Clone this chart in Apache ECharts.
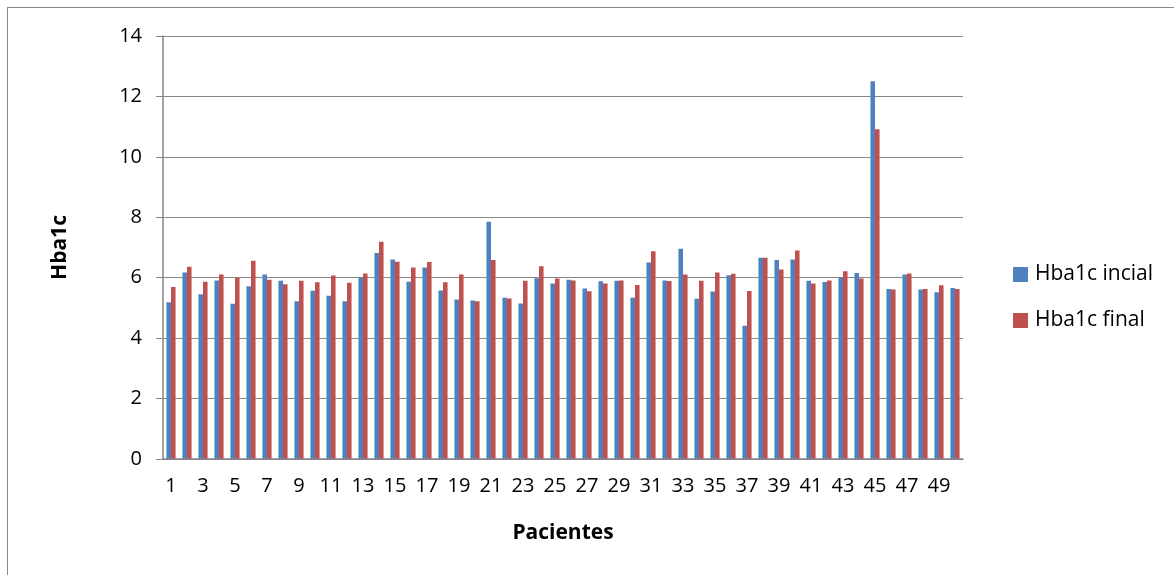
<!DOCTYPE html>
<html>
<head>
<meta charset="utf-8">
<script src="https://cdn.jsdelivr.net/npm/echarts@6/dist/echarts.min.js"></script>
<style>
html,body{margin:0;padding:0;background:#fff;overflow:hidden;}
#frame{position:absolute;left:7px;top:7px;width:1200px;height:600px;border:1px solid #898989;box-sizing:border-box;}
#chart{position:absolute;left:0;top:0;width:1174px;height:575px;}
</style>
</head>
<body>
<div id="frame"></div>
<div id="chart"></div>
<script>
const categories = Array.from({length: 50}, (_, i) => String(i + 1));
const seriesNames = ['Hba1c incial', 'Hba1c final'];
const hbaInicial = [5.19,6.17,5.45,5.91,5.14,5.72,6.11,5.90,5.22,5.57,
                    5.40,5.22,6.00,6.82,6.60,5.87,6.34,5.58,5.28,5.25,
                    7.85,5.34,5.15,5.98,5.81,5.93,5.64,5.88,5.90,5.34,
                    6.50,5.91,6.96,5.30,5.54,6.08,4.41,6.66,6.59,6.60,
                    5.90,5.86,6.01,6.16,12.50,5.63,6.11,5.61,5.52,5.66];
const hbaFinal   = [5.69,6.36,5.87,6.11,5.99,6.56,5.93,5.78,5.90,5.85,
                    6.07,5.83,6.14,7.19,6.53,6.34,6.52,5.85,6.11,5.22,
                    6.59,5.31,5.90,6.38,5.97,5.91,5.55,5.81,5.91,5.76,
                    6.88,5.89,6.11,5.90,6.17,6.13,5.56,6.66,6.27,6.90,
                    5.81,5.91,6.21,5.97,10.91,5.61,6.14,5.63,5.75,5.63];
const yTicks = [0, 2, 4, 6, 8, 10, 12, 14];

const font = '"Open Sans", sans-serif';
const chart = echarts.init(document.getElementById('chart'));
chart.setOption({
  animation: false,
  textStyle: {fontFamily: font},
  grid: {left: 163, top: 36, width: 800, height: 423, containLabel: false},
  legend: {
    orient: 'vertical', left: 1008, top: 259, itemGap: 25,
    itemWidth: 15, itemHeight: 15, icon: 'rect',
    textStyle: {fontSize: 21, color: '#000', fontFamily: font, padding: [0,0,0,2]},
    data: seriesNames
  },
  xAxis: {
    type: 'category', data: categories,
    name: 'Pacientes', nameLocation: 'middle', nameGap: 64,
    nameTextStyle: {fontSize: 21, fontWeight: 'bold', color: '#000', fontFamily: font},
    axisLine: {lineStyle: {color: '#868686', width: 1.5}},
    axisTick: {show: false},
    axisLabel: {interval: 1, fontSize: 20, color: '#000', margin: 17, fontFamily: font},
    z: 5
  },
  yAxis: {
    type: 'value', min: yTicks[0], max: yTicks[yTicks.length - 1], interval: 2,
    name: 'Hba1c', nameLocation: 'middle', nameGap: 92, nameRotate: 90,
    nameTextStyle: {fontSize: 21, fontWeight: 'bold', color: '#000', fontFamily: font},
    axisLine: {show: true, lineStyle: {color: '#868686', width: 1.5}},
    axisTick: {show: true, inside: false, length: 7, lineStyle: {color: '#868686'}},
    axisLabel: {fontSize: 20, color: '#000', margin: 21, fontFamily: font},
    splitLine: {lineStyle: {color: '#868686', width: 1}}
  },
  series: [
    {name: seriesNames[0], type: 'bar', data: hbaInicial, barGap: '0%', barCategoryGap: '43%',
     itemStyle: {color: '#4F81BD'}},
    {name: seriesNames[1], type: 'bar', data: hbaFinal, barGap: '0%', barCategoryGap: '43%',
     itemStyle: {color: '#C0504D'}}
  ]
});
</script>
</body>
</html>
